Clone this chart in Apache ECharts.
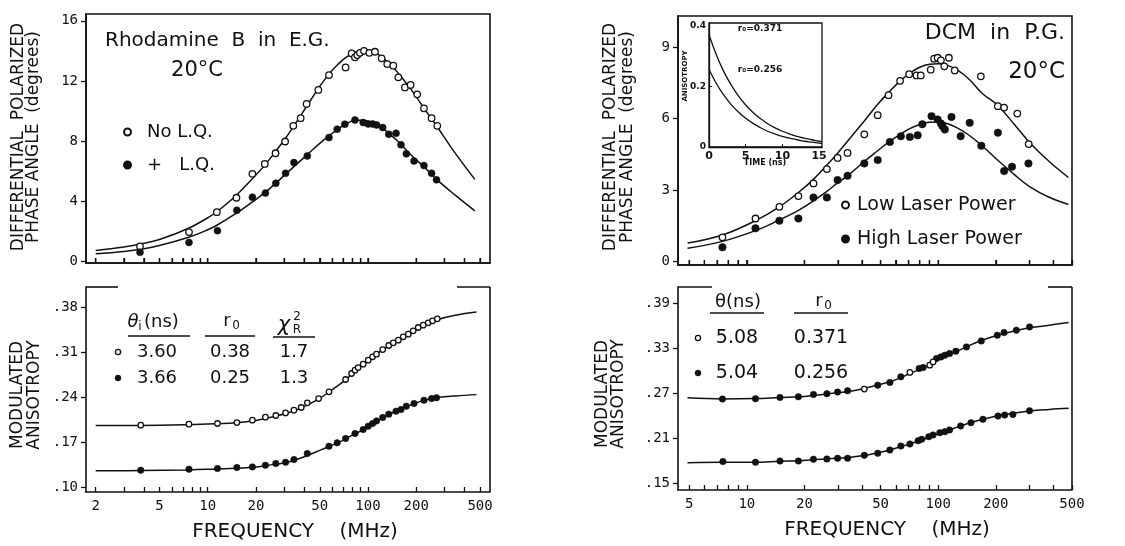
<!DOCTYPE html>
<html><head><meta charset="utf-8">
<script src="https://cdn.jsdelivr.net/npm/echarts@6/dist/echarts.min.js"></script>
<style>html,body{margin:0;padding:0;background:#fff}#c{width:1125px;height:546px}</style>
</head><body><div id="c"></div>
<script>
// ---------------- DATA ----------------
// x: frequency (MHz), log scale
const freqTicksLeft  = [2,3,4,5,6,7,8,9,10,20,30,40,50,60,70,80,90,100,200,300,400,500];
const freqLabelsLeft = [2,5,10,20,50,100,200,500];
const freqTicksRight = [5,6,7,8,9,10,20,30,40,50,60,70,80,90,100,200,300,400,500];
const freqLabelsRight= [5,10,20,50,100,200,500];
const phaseTicksLeft = [0,4,8,12,16];
const phaseTicksRight= [0,3,6,9];
const anisoTicksLeft = [0.10,0.17,0.24,0.31,0.38];
const anisoTicksRight= [0.15,0.21,0.27,0.33,0.39];
const insetTimeTicks = [0,5,10,15];
const insetAnisoTicks= [0,0.2,0.4];

// Rhodamine B in E.G. — differential polarized phase angle (deg)
const rhodPhaseNoLQ = [[3.78,1.0],[7.64,1.95],[11.4,3.27],[15.1,4.23],[19.0,5.82],[22.7,6.48],[26.5,7.19],[30.4,7.97],[34.2,9.01],[38.0,9.52],[41.4,10.47],[49.0,11.4],[57.1,12.39],[72.5,12.9],[79,13.83],[82.9,13.57],[85.7,13.72],[89.1,13.87],[94.4,14.0],[101.9,13.87],[110.5,13.94],[121.6,13.5],[131.9,13.12],[143.8,13.01],[154.6,12.24],[170,11.57],[184.4,11.73],[202.9,11.11],[223.4,10.18],[249.4,9.52],[270.5,9.01]];
const rhodPhaseLQ = [[3.78,0.6],[7.64,1.26],[11.5,2.04],[15.2,3.39],[19.0,4.27],[22.9,4.54],[26.6,5.2],[30.6,5.86],[34.5,6.57],[41.8,7.01],[57.1,8.23],[64.2,8.79],[71.7,9.12],[82.9,9.4],[93.3,9.23],[100.3,9.14],[106.8,9.14],[113.2,9.07],[123.5,8.9],[134.8,8.45],[149.6,8.52],[160.6,7.75],[173.4,7.15],[193.7,6.68],[223.4,6.37],[249.4,5.86],[267.6,5.42]];
const rhodPhaseFitNoLQ = [[2,0.72],[3,0.95],[3.8,1.15],[5,1.45],[7.6,2.2],[10,2.9],[11.4,3.3],[15.1,4.4],[19,5.5],[22.7,6.4],[26.5,7.3],[30.4,8.15],[34.2,8.95],[41.4,10.3],[49,11.5],[57,12.45],[65,13.1],[72.5,13.55],[85,13.95],[95,14.05],[110,13.9],[130,13.35],[155,12.5],[185,11.45],[223,10.2],[270,8.95],[350,7.2],[464,5.45]];
const rhodPhaseFitLQ = [[2,0.5],[3,0.65],[3.8,0.8],[5,1.05],[7.6,1.6],[10,2.1],[11.4,2.4],[15.1,3.2],[19,3.95],[22.9,4.6],[26.6,5.2],[30.6,5.8],[34.5,6.3],[41.8,7.1],[50,7.85],[57,8.35],[65,8.8],[72,9.1],[83,9.38],[93,9.38],[105,9.25],[120,8.95],[135,8.5],[155,7.95],[175,7.35],[195,6.85],[223,6.3],[268,5.45],[350,4.4],[464,3.36]];

// Rhodamine B — modulated anisotropy
const rhodAnisoNoLQ = [[3.82,0.1963],[7.64,0.1978],[11.5,0.1989],[15.2,0.2004],[19.0,0.2041],[22.9,0.2088],[26.6,0.2114],[30.6,0.2155],[34.5,0.2197],[38.3,0.2239],[41.8,0.2312],[49.2,0.2379],[57.1,0.2483],[72.5,0.2676],[79,0.277],[83,0.2822],[86.8,0.2863],[93.3,0.2915],[100.3,0.2978],[106.8,0.303],[113,0.3071],[123.5,0.3144],[134.8,0.3207],[143.8,0.3248],[154.6,0.329],[166,0.3342],[178.3,0.3384],[191.5,0.3436],[205.7,0.3488],[221,0.3524],[237.5,0.3561],[252.8,0.3592],[270.5,0.3623]];
const rhodAnisoLQ = [[3.82,0.126],[7.64,0.1276],[11.5,0.1286],[15.2,0.1302],[19.0,0.1312],[22.9,0.1338],[26.6,0.1364],[30.6,0.1385],[34.5,0.1427],[41.8,0.152],[57.1,0.1635],[64.2,0.1687],[72.5,0.1755],[83,0.1833],[93.3,0.1895],[100.3,0.1947],[106.8,0.1989],[113,0.203],[123.5,0.2083],[134.8,0.2135],[149.6,0.2181],[160.6,0.2207],[173.4,0.226],[193.7,0.2301],[223.4,0.2353],[249.4,0.2379],[267.6,0.239]];
const rhodAnisoFitNoLQ = [[2,0.196],[3.8,0.196],[7.6,0.197],[11.5,0.1985],[15,0.2],[19,0.203],[23,0.207],[27,0.211],[31,0.215],[35,0.219],[42,0.228],[50,0.238],[57,0.248],[65,0.258],[72.5,0.267],[83,0.28],[93,0.291],[100,0.297],[113,0.307],[124,0.314],[135,0.32],[155,0.329],[178,0.338],[205,0.347],[237,0.355],[270,0.361],[350,0.368],[475,0.373]];
const rhodAnisoFitLQ = [[2,0.125],[3.8,0.1255],[7.6,0.1265],[11.5,0.128],[15,0.129],[19,0.1305],[23,0.133],[27,0.1355],[31,0.138],[35,0.142],[42,0.149],[50,0.157],[57,0.163],[65,0.169],[72.5,0.175],[83,0.183],[93,0.189],[100,0.194],[113,0.202],[124,0.208],[135,0.213],[150,0.218],[173,0.225],[194,0.23],[223,0.235],[250,0.238],[268,0.2395],[350,0.242],[475,0.244]];

// DCM in P.G. — differential polarized phase angle (deg)
const dcmPhaseLow = [[7.46,1.02],[11.1,1.81],[14.8,2.3],[18.6,2.75],[22.3,3.28],[26.2,3.88],[29.8,4.35],[33.6,4.56],[41.1,5.34],[48.3,6.14],[55.0,6.98],[63.2,7.58],[70.5,7.86],[77.0,7.81],[81.1,7.81],[91.4,8.05],[95.2,8.51],[99.3,8.55],[103.3,8.44],[107.6,8.19],[113.7,8.55],[122.0,8.02],[167,7.77],[205,6.52],[221,6.46],[259,6.21],[297,4.93]];
const dcmPhaseHigh = [[7.46,0.6],[11.1,1.4],[14.8,1.72],[18.6,1.81],[22.3,2.69],[26.2,2.69],[29.8,3.42],[33.6,3.6],[41.1,4.12],[48.3,4.26],[55.9,5.02],[63.8,5.26],[71.1,5.23],[78.1,5.3],[82.6,5.76],[92.3,6.1],[99.3,5.96],[103.3,5.79],[105.3,5.68],[108.3,5.54],[117.3,6.07],[131,5.26],[146,5.82],[168,4.86],[205,5.41],[221,3.8],[243,3.98],[296,4.12]];
const dcmPhaseFitLow = [[4.9,0.78],[7.46,1.12],[11.1,1.72],[14.8,2.3],[18.6,2.9],[22.3,3.45],[26.2,4.05],[29.8,4.55],[33.6,5.05],[41.1,5.9],[48.3,6.6],[55.9,7.15],[63.8,7.6],[71,7.9],[80,8.15],[90,8.28],[100,8.3],[110,8.25],[125,8.05],[145,7.65],[170,7.05],[205,6.55],[250,5.75],[300,5.0],[380,4.2],[479,3.53]];
const dcmPhaseFitHigh = [[4.9,0.56],[7.46,0.85],[11.1,1.3],[14.8,1.75],[18.6,2.15],[22.3,2.55],[26.2,2.95],[29.8,3.3],[33.6,3.6],[41.1,4.2],[48.3,4.65],[55.9,5.05],[63.8,5.35],[71,5.58],[80,5.75],[90,5.85],[100,5.86],[110,5.8],[125,5.62],[145,5.3],[170,4.85],[205,4.25],[250,3.65],[300,3.15],[380,2.7],[479,2.4]];

// DCM — modulated anisotropy
const dcmAnisoUpperFilled = [[7.46,0.2624],[11.1,0.2628],[14.9,0.2646],[18.6,0.2655],[22.3,0.2686],[26.2,0.2695],[29.8,0.2717],[33.6,0.2735],[48.3,0.281],[55.9,0.2846],[63.8,0.2921],[79.5,0.3032],[83.4,0.3045],[97.9,0.3165],[103.3,0.3187],[108.3,0.3209],[114.6,0.3232],[123.6,0.3263],[140.4,0.332],[167.9,0.34],[203.5,0.3476],[220.8,0.3511],[256,0.3543],[300,0.3587]];
const dcmAnisoUpperOpen = [[41.1,0.2757],[71.1,0.2979],[90.3,0.3077],[94,0.312]];
const dcmAnisoLower = [[7.5,0.1789],[11.1,0.178],[14.9,0.1797],[18.6,0.1797],[22.3,0.182],[26.2,0.1824],[29.8,0.1833],[33.6,0.1833],[41.1,0.1873],[48.3,0.19],[55.9,0.1944],[63.8,0.1997],[71.1,0.2024],[78.6,0.2068],[82,0.2086],[89.3,0.2122],[94,0.2144],[101.9,0.2175],[108.3,0.2188],[114.6,0.2211],[131,0.2264],[148.3,0.2308],[171.2,0.2353],[205.3,0.2397],[222.5,0.241],[245.6,0.2419],[300,0.2468]];
const dcmAnisoFitUpper = [[4.9,0.264],[7.5,0.2625],[11,0.263],[15,0.2645],[18.6,0.2655],[22,0.267],[26,0.269],[30,0.271],[34,0.2725],[41,0.2765],[48,0.281],[56,0.2855],[64,0.291],[71,0.2965],[80,0.302],[90,0.308],[100,0.3145],[110,0.3195],[124,0.3255],[140,0.332],[168,0.3405],[204,0.3475],[256,0.354],[300,0.3575],[380,0.361],[480,0.3645]];
const dcmAnisoFitLower = [[4.9,0.1775],[7.5,0.178],[11,0.178],[15,0.1795],[18.6,0.18],[22,0.1815],[26,0.1825],[30,0.1835],[34,0.1845],[41,0.187],[48,0.1905],[56,0.1945],[64,0.199],[71,0.2025],[80,0.207],[90,0.2115],[100,0.216],[110,0.2195],[120,0.223],[131,0.2265],[148,0.231],[171,0.2355],[205,0.24],[245,0.2435],[300,0.2465],[380,0.2485],[480,0.25]];

// Inset — anisotropy decay vs time (ns)
const insetTime = [0,1,2,3,4,5,6,7,8,9,10,11,12,13,14,15,15.4];
const insetR371 = [0.371,0.305,0.250,0.206,0.169,0.139,0.114,0.094,0.077,0.063,0.052,0.043,0.035,0.029,0.024,0.019,0.018];
const insetR256 = [0.256,0.210,0.172,0.141,0.116,0.095,0.078,0.064,0.052,0.043,0.035,0.029,0.024,0.019,0.016,0.013,0.012];

// ---------------- CHART ----------------
const ink = '#111';
const FS = 'DejaVu Sans';
const FM = 'DejaVu Sans Mono';
const chart = echarts.init(document.getElementById('c'), null, {renderer:'canvas'});

const Y_MIN_TL = -0.11, Y_MIN_TR = -0.14;

function logX(grid, min, max, ticks, labels, showLabels, name, namePad) {
  const ax = {
    type:'log', logBase:10, gridIndex:grid, min:min, max:max,
    axisLine:{show:true, onZero:false, lineStyle:{color:ink, width:1.6}},
    axisTick:{show:true, inside:true, length:5, customValues:ticks, lineStyle:{color:ink, width:1.3}},
    axisLabel:{show:true, customValues:labels, margin:7, color: showLabels ? ink : 'rgba(0,0,0,0)',
      fontSize:14, fontFamily:FM},
    splitLine:{show:false}
  };
  if (name) {
    ax.name = name; ax.nameLocation = 'middle'; ax.nameGap = 30;
    ax.nameTextStyle = {color:ink, fontSize:20, fontFamily:FS, padding:[0,0,0,namePad||0]};
  }
  return ax;
}
function valY(grid, min, max, ticks, fmt) {
  return {
    type:'value', gridIndex:grid, min:min, max:max,
    axisLine:{show:true, onZero:false, lineStyle:{color:ink, width:1.6}},
    axisTick:{show:true, inside:false, length:5, customValues:ticks, lineStyle:{color:ink, width:1.3}},
    axisLabel:{show:true, customValues:ticks, margin:8, color:ink, fontSize:14, fontFamily:FM, formatter:fmt},
    splitLine:{show:false}
  };
}
const fmtDot = v => '.' + Math.round(v*100);
const fmtInt = v => String(Math.round(v));

function fit(name, data, xi, yi) {
  return {type:'line', name:name, data:data, xAxisIndex:xi, yAxisIndex:yi, smooth:0.4,
    showSymbol:false, symbol:'none', lineStyle:{color:ink, width:1.5}, z:2, silent:true};
}
function pts(name, data, xi, yi, open, size) {
  return {type:'scatter', name:name, data:data, xAxisIndex:xi, yAxisIndex:yi, symbol:'circle',
    symbolSize:size, z:3, silent:true,
    itemStyle: open ? {color:'#fff', borderColor:ink, borderWidth:1.3, opacity:1}
                    : {color:ink, borderColor:ink, borderWidth:0.5, opacity:1}};
}
// frequency tick marks along the bottom edge of the upper panels, placed through the axes' scales
function freqTickMarks(xi, yi, ticks, yBase) {
  return {type:'custom', name:'ticks' + xi, xAxisIndex:xi, yAxisIndex:yi, data:ticks.map(t => [t, yBase]),
    silent:true, z:10, clip:false,
    renderItem:(params, api) => {
      const p = api.coord([api.value(0), api.value(1)]);
      return {type:'line', shape:{x1:p[0], y1:p[1], x2:p[0], y2:p[1]-5}, style:{stroke:ink, lineWidth:1.3}};
    }};
}

const grids = [
  {left:86, top:14, width:404, height:249},
  {left:86, top:287, width:404, height:205},
  {left:678, top:16, width:394, height:249},
  {left:678, top:287, width:394, height:203},
  {left:709, top:23, width:113, height:124}
];

const txt = (x, y, text, font, align, extra) => Object.assign({
  type:'text', x:x, y:y, z:100, silent:true,
  style:{text:text, font:font, fill:ink, align:align||'center', verticalAlign:'middle'}
}, extra||{});
const vtxt = (x, y, text, font) => txt(x, y, text, font, 'center', {rotation:Math.PI/2});
const hline = (x1, x2, y, w) => ({type:'line', z:100, silent:true, shape:{x1:x1, y1:y, x2:x2, y2:y}, style:{stroke:ink, lineWidth:w||1.5}});
const vline = (x, y1, y2, w) => ({type:'line', z:100, silent:true, shape:{x1:x, y1:y1, x2:x, y2:y2}, style:{stroke:ink, lineWidth:w||1.6}});
const box = (x, y, w, h, lw) => ({type:'rect', z:100, silent:true, shape:{x:x, y:y, width:w, height:h}, style:{fill:null, stroke:ink, lineWidth:lw}});
const dot = (cx, cy, r, open) => ({type:'circle', z:100, silent:true, shape:{cx:cx, cy:cy, r:r},
  style: open ? {fill:'#fff', stroke:ink, lineWidth:1.3} : {fill:ink, stroke:ink, lineWidth:0.5}});

const option = {
  animation:false,
  backgroundColor:'#fff',
  textStyle:{fontFamily:FS, color:ink},
  grid: grids,
  xAxis: [
    logX(0, 1.74, 577, freqTicksLeft, freqLabelsLeft, false),
    logX(1, 1.74, 577, freqTicksLeft, freqLabelsLeft, true, 'FREQUENCY    (MHz)', 14),
    logX(2, 4.37, 500, freqTicksRight, freqLabelsRight, false),
    logX(3, 4.37, 500, freqTicksRight, freqLabelsRight, true, 'FREQUENCY    (MHz)', 24),
    {type:'value', gridIndex:4, min:0, max:15.4,
      axisLine:{show:true, onZero:false, lineStyle:{color:ink, width:1.3}},
      axisTick:{show:true, inside:true, length:3, customValues:[5,10], lineStyle:{color:ink}},
      axisLabel:{show:true, customValues:insetTimeTicks, margin:4, color:ink, fontSize:11, fontWeight:'bold', fontFamily:FS},
      splitLine:{show:false}}
  ],
  yAxis: [
    valY(0, Y_MIN_TL, 16.45, phaseTicksLeft, fmtInt),
    valY(1, 0.092, 0.412, anisoTicksLeft, fmtDot),
    valY(2, Y_MIN_TR, 10.3, phaseTicksRight, fmtInt),
    valY(3, 0.141, 0.412, anisoTicksRight, fmtDot),
    {type:'value', gridIndex:4, min:0, max:0.41,
      axisLine:{show:true, onZero:false, lineStyle:{color:ink, width:1.3}},
      axisTick:{show:true, inside:true, length:3, customValues:[0.2], lineStyle:{color:ink}},
      axisLabel:{show:true, customValues:insetAnisoTicks, margin:3, color:ink, fontSize:9, fontWeight:'bold', fontFamily:FS,
        formatter: v => v === 0 ? '0' : v.toFixed(1)},
      splitLine:{show:false}}
  ],
  legend: [
    {left:123, top:122, orient:'vertical', itemWidth:7, itemHeight:7, itemGap:13, icon:'circle', selectedMode:false,
      data:['No L.Q.','+   L.Q.'], padding:0,
      textStyle:{fontSize:18, fontFamily:FS, color:ink, lineHeight:20, padding:[0,0,0,11]}},
    {left:841, top:195, orient:'vertical', itemWidth:7, itemHeight:7, itemGap:14, icon:'circle', selectedMode:false,
      data:['Low Laser Power','High Laser Power'], padding:0,
      textStyle:{fontSize:19, fontFamily:FS, color:ink, lineHeight:20, padding:[0,0,0,3]}}
  ],
  series: [
    fit('fit No L.Q.', rhodPhaseFitNoLQ, 0, 0),
    fit('fit + L.Q.', rhodPhaseFitLQ, 0, 0),
    pts('No L.Q.', rhodPhaseNoLQ, 0, 0, true, 6.5),
    pts('+   L.Q.', rhodPhaseLQ, 0, 0, false, 7),
    freqTickMarks(0, 0, freqTicksLeft, Y_MIN_TL),

    fit('fit aniso No L.Q.', rhodAnisoFitNoLQ, 1, 1),
    fit('fit aniso + L.Q.', rhodAnisoFitLQ, 1, 1),
    pts('aniso No L.Q.', rhodAnisoNoLQ, 1, 1, true, 5.5),
    pts('aniso + L.Q.', rhodAnisoLQ, 1, 1, false, 6.5),

    fit('fit Low Laser Power', dcmPhaseFitLow, 2, 2),
    fit('fit High Laser Power', dcmPhaseFitHigh, 2, 2),
    pts('Low Laser Power', dcmPhaseLow, 2, 2, true, 6.5),
    pts('High Laser Power', dcmPhaseHigh, 2, 2, false, 7.5),
    freqTickMarks(2, 2, freqTicksRight, Y_MIN_TR),

    fit('fit aniso upper', dcmAnisoFitUpper, 3, 3),
    fit('fit aniso lower', dcmAnisoFitLower, 3, 3),
    pts('aniso upper filled', dcmAnisoUpperFilled, 3, 3, false, 6.5),
    pts('aniso upper open', dcmAnisoUpperOpen, 3, 3, true, 5.5),
    pts('aniso lower', dcmAnisoLower, 3, 3, false, 6.5),

    {type:'line', name:'r0=0.371', data:insetTime.map((t,i)=>[t, insetR371[i]]), xAxisIndex:4, yAxisIndex:4,
      smooth:0.4, showSymbol:false, symbol:'none', lineStyle:{color:ink, width:1.3}, z:6, silent:true},
    {type:'line', name:'r0=0.256', data:insetTime.map((t,i)=>[t, insetR256[i]]), xAxisIndex:4, yAxisIndex:4,
      smooth:0.4, showSymbol:false, symbol:'none', lineStyle:{color:ink, width:1.3}, z:6, silent:true}
  ],
  graphic: {elements: [
    // panel frames
    box(86, 14, 404, 249, 1.6),
    box(678, 16, 394, 249, 1.6),
    box(709, 23, 113, 124, 1.3),
    // axis titles
    vtxt(19, 137, 'DIFFERENTIAL  POLARIZED', '17px ' + FS),
    vtxt(34, 137, 'PHASE ANGLE  (degrees)', '17px ' + FS),
    vtxt(18, 395, 'MODULATED', '17px ' + FS),
    vtxt(35, 395, 'ANISOTROPY', '17px ' + FS),
    vtxt(611, 137, 'DIFFERENTIAL  POLARIZED', '17px ' + FS),
    vtxt(628, 137, 'PHASE ANGLE  (degrees)', '17px ' + FS),
    vtxt(603, 394, 'MODULATED', '17px ' + FS),
    vtxt(619, 394, 'ANISOTROPY', '17px ' + FS),
    // panel titles
    txt(105, 41, 'Rhodamine  B  in  E.G.', '20px ' + FS, 'left'),
    txt(197, 71, '20°C', '21px ' + FS),
    txt(1065, 33, 'DCM  in  P.G.', '22px ' + FS, 'right'),
    txt(1065, 72, '20°C', '23px ' + FS, 'right'),
    // bottom-left box pieces
    vline(490, 287, 492), hline(86, 118, 287, 1.6), hline(457, 490, 287, 1.6),
    // bottom-right box pieces
    vline(1072, 287, 490), hline(678, 712, 287, 1.6), hline(1048, 1072, 287, 1.6),
    // table bottom-left
    txt(133, 322, 'θ', 'italic 18px ' + FS),
    txt(140, 327, 'i', '12px ' + FS),
    txt(144, 322, '(ns)', '18px ' + FS, 'left'),
    hline(128, 190, 336),
    txt(227, 321, 'r', '18px ' + FS),
    txt(236, 326, '0', '12px ' + FS),
    hline(205, 255, 336),
    txt(284, 326, 'χ', 'italic 21px ' + FS),
    txt(297, 317, '2', '12px ' + FS),
    txt(297, 330, 'R', '12px ' + FS),
    hline(273, 315, 337),
    dot(118, 352, 2.6, true), txt(157, 352, '3.60', '18px ' + FS), txt(230, 352, '0.38', '18px ' + FS), txt(294, 352, '1.7', '18px ' + FS),
    dot(118, 378, 3, false), txt(157, 378, '3.66', '18px ' + FS), txt(230, 378, '0.25', '18px ' + FS), txt(294, 378, '1.3', '18px ' + FS),
    // table bottom-right
    txt(738, 302, 'θ(ns)', '18px ' + FS),
    hline(710, 764, 313),
    txt(819, 301, 'r', '18px ' + FS),
    txt(828, 306, '0', '12px ' + FS),
    hline(794, 848, 313),
    dot(698, 338, 2.6, true), txt(737, 338, '5.08', '19px ' + FS), txt(821, 338, '0.371', '19px ' + FS),
    dot(698, 373, 3, false), txt(737, 373, '5.04', '19px ' + FS), txt(821, 373, '0.256', '19px ' + FS),
    // inset texts
    txt(760, 29, 'r₀=0.371', 'bold 9px ' + FS),
    txt(760, 70, 'r₀=0.256', 'bold 9px ' + FS),
    txt(765, 163, 'TIME (ns)', 'bold 8px ' + FS),
    vtxt(685, 76, 'ANISOTROPY', 'bold 7px ' + FS)
  ]}
};
chart.setOption(option);
</script>
</body></html>
